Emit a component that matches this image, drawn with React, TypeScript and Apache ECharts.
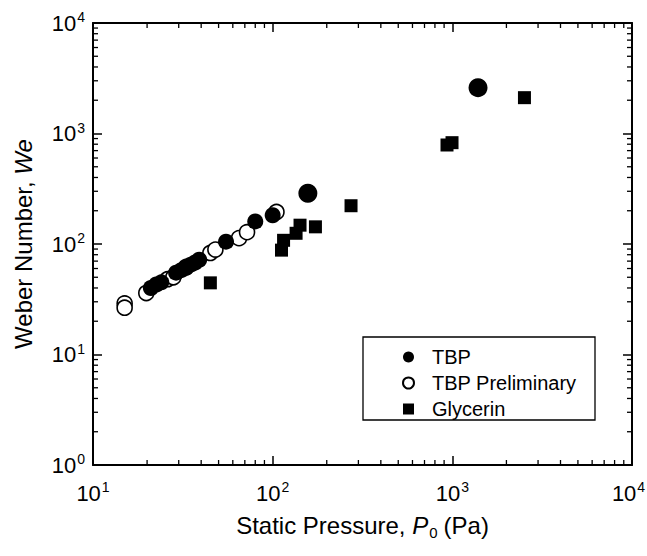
import React, { useEffect, useRef } from "react";
import * as echarts from "echarts";

// TBP (filled circles)
const tbpP = [21, 22.5, 24, 29, 31, 33, 35, 37, 39, 55, 80, 100, 157, 1390];
const tbpWe = [40, 43, 45, 55, 58, 61, 65, 68, 72, 105, 160, 182, 288, 2600];
// TBP Preliminary (open circles)
const prelimP = [15, 15, 19.8, 26, 28, 33, 45, 48, 65, 72, 105];
const prelimWe = [29, 26.5, 36, 48, 50, 62, 83, 89, 113, 128, 195];
// Glycerin (filled squares)
const glyP = [45, 112, 115, 135, 142, 173, 273, 934, 996, 2520];
const glyWe = [44.5, 88, 108, 125, 148, 143, 222, 787, 826, 2110];

const xTickExps = [1, 2, 3, 4];
const yTickExps = [0, 1, 2, 3, 4];
const minorMult = [2, 3, 4, 5, 6, 7, 8, 9];
const xDecades = [10, 100, 1000];
const yDecades = [1, 10, 100, 1000];

const FONT = "'Liberation Sans', Arial, sans-serif";

export default function App() {
  const ref = useRef<HTMLDivElement>(null);
  useEffect(() => {
    if (!ref.current) return;
    const chart = echarts.init(ref.current, undefined, { renderer: "svg" });
    const X_MIN = Math.pow(10, xTickExps[0]);
    const X_MAX = Math.pow(10, xTickExps[xTickExps.length - 1]);
    const Y_MIN = Math.pow(10, yTickExps[0]);
    const Y_MAX = Math.pow(10, yTickExps[yTickExps.length - 1]);

    const xMinor: number[][] = [];
    xDecades.forEach((d) => minorMult.forEach((m) => xMinor.push([d * m, Y_MIN])));
    const yMinor: number[][] = [];
    yDecades.forEach((d) => minorMult.forEach((m) => yMinor.push([X_MIN, d * m])));

    const labelRich = {
      b: { fontSize: 22, fontFamily: FONT, color: "#000" },
      s: { fontSize: 14, fontFamily: FONT, color: "#000", padding: [0, 0, 12, 1] },
      se: { fontSize: 14, fontFamily: FONT, color: "#000", padding: [0, 7, 12, 1] },
    };
    const fmt = (v: number) => `{b|10}{s|${Math.round(Math.log10(v))}}`;
    const lastX = xTickExps[xTickExps.length - 1];
    const fmtX = (v: number) => {
      const e = Math.round(Math.log10(v));
      return e === lastX ? `{b|10}{se|${e}}` : `{b|10}{s|${e}}`;
    };
    const lineStyle = { color: "#000", width: 2 };
    const tickStyle = { color: "#000", width: 1.5 };

    const tickLen = 5;
    const option: any = {
      animation: false,
      grid: {
        left: 93,
        top: 23,
        width: 539,
        height: 442,
        containLabel: false,
        outerBoundsMode: "none",
      },
      xAxis: [
        {
          type: "log",
          logBase: 10,
          min: X_MIN,
          max: X_MAX,
          position: "bottom",
          axisLine: { show: true, onZero: false, lineStyle },
          axisTick: { inside: true, length: 9, lineStyle: tickStyle },
          splitLine: { show: false },
          minorTick: { show: false },
          axisLabel: { margin: 15, formatter: fmtX, rich: labelRich },
          name: "{n|Static Pressure, }{i|P}{sub|0}{n|(Pa)}",
          nameLocation: "middle",
          nameGap: 46,
          nameTextStyle: {
            rich: {
              n: { fontSize: 24, fontFamily: FONT, color: "#000" },
              i: { fontSize: 24, fontFamily: FONT, fontStyle: "italic", color: "#000" },
              sub: { fontSize: 15, fontFamily: FONT, color: "#000", padding: [14, 6, 0, 1] },
            },
          },
        },
        {
          type: "log",
          logBase: 10,
          min: X_MIN,
          max: X_MAX,
          position: "top",
          axisLine: { show: true, onZero: false, lineStyle },
          axisTick: { inside: true, length: 9, lineStyle: tickStyle },
          splitLine: { show: false },
          axisLabel: { show: false },
        },
      ],
      yAxis: [
        {
          type: "log",
          logBase: 10,
          min: Y_MIN,
          max: Y_MAX,
          position: "left",
          axisLine: { show: true, onZero: false, lineStyle },
          axisTick: { inside: true, length: 9, lineStyle: tickStyle },
          splitLine: { show: false },
          minorTick: { show: false },
          axisLabel: { margin: 8, formatter: fmt, rich: labelRich },
          name: "{n|Weber Number, }{i|We}",
          nameLocation: "middle",
          nameGap: 58,
          nameTextStyle: {
            rich: {
              n: { fontSize: 24, fontFamily: FONT, color: "#000" },
              i: { fontSize: 24, fontFamily: FONT, fontStyle: "italic", color: "#000" },
            },
          },
        },
        {
          type: "log",
          logBase: 10,
          min: Y_MIN,
          max: Y_MAX,
          position: "right",
          axisLine: { show: true, onZero: false, lineStyle },
          axisTick: { inside: true, length: 9, lineStyle: tickStyle },
          splitLine: { show: false },
          axisLabel: { show: false },
        },
      ],
      legend: {
        data: ["TBP", "TBP Preliminary", "Glycerin"],
        orient: "vertical",
        left: 397,
        top: 342,
        itemWidth: 11,
        itemHeight: 11,
        itemGap: 6,
        textStyle: { fontSize: 20, fontFamily: FONT, color: "#000", padding: [0, 0, 0, 13] },
        selectedMode: false,
      },
      graphic: [
        {
          type: "rect",
          shape: { x: 363, y: 337, width: 232, height: 83 },
          style: { fill: "#fff", stroke: "#000", lineWidth: 1.3 },
          z: 1,
        },
      ],
      series: [
        {
          name: "Glycerin",
          type: "scatter",
          symbol: "rect",
          symbolSize: 13,
          data: glyP.map((p, i) => [p, glyWe[i]]),
          itemStyle: { color: "#000", opacity: 1 },
          z: 3,
        },
        {
          name: "TBP Preliminary",
          type: "scatter",
          symbol: "circle",
          symbolSize: 15,
          data: prelimP.map((p, i) => [p, prelimWe[i]]),
          itemStyle: { color: "#fff", borderColor: "#000", borderWidth: 1.6, opacity: 1 },
          z: 3,
        },
        {
          name: "TBP",
          type: "scatter",
          symbol: "circle",
          symbolSize: (_v: any, params: any) => (params.dataIndex >= tbpP.length - 2 ? 19 : 16),
          data: tbpP.map((p, i) => [p, tbpWe[i]]),
          itemStyle: { color: "#000", opacity: 1 },
          z: 4,
        },
        {
          name: "xminor",
          type: "custom",
          silent: true,
          clip: false,
          data: xMinor,
          renderItem: (_p: any, api: any) => {
            const v = api.value(0);
            const b = api.coord([v, Y_MIN]);
            const t = api.coord([v, Y_MAX]);
            return {
              type: "group",
              children: [
                { type: "line", shape: { x1: b[0], y1: b[1], x2: b[0], y2: b[1] - tickLen }, style: { stroke: "#000", lineWidth: 1.3 } },
                { type: "line", shape: { x1: t[0], y1: t[1], x2: t[0], y2: t[1] + tickLen }, style: { stroke: "#000", lineWidth: 1.3 } },
              ],
            };
          },
          z: 5,
        },
        {
          name: "yminor",
          type: "custom",
          silent: true,
          clip: false,
          data: yMinor,
          renderItem: (_p: any, api: any) => {
            const v = api.value(1);
            const l = api.coord([X_MIN, v]);
            const r = api.coord([X_MAX, v]);
            return {
              type: "group",
              children: [
                { type: "line", shape: { x1: l[0], y1: l[1], x2: l[0] + tickLen, y2: l[1] }, style: { stroke: "#000", lineWidth: 1.3 } },
                { type: "line", shape: { x1: r[0], y1: r[1], x2: r[0] - tickLen, y2: r[1] }, style: { stroke: "#000", lineWidth: 1.3 } },
              ],
            };
          },
          z: 5,
        },
      ],
    };
    chart.setOption(option);
    return () => chart.dispose();
  }, []);
  return (
    <div
      ref={ref}
      style={{ position: "fixed", left: 0, top: 0, width: 647, height: 556, background: "#fff" }}
    />
  );
}
